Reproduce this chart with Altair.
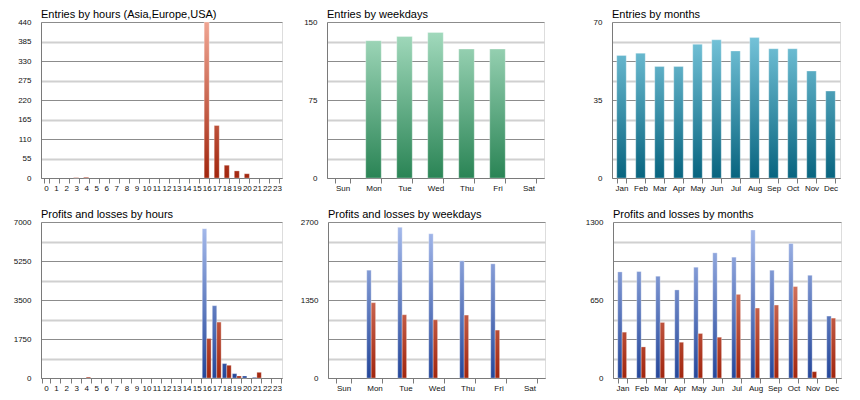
import altair as alt

# ---------------- data ----------------
hours = [str(h) for h in range(24)]
entries_hours = [0, 0, 0, 1, 2, 0, 0, 0, 0, 0, 0, 0, 0, 0, 0, 0,
                 440, 148, 36, 20, 12, 0, 0, 0]

weekdays = ["Sun", "Mon", "Tue", "Wed", "Thu", "Fri", "Sat"]
entries_week = [0, 132, 136, 140, 124, 124, 0]

months = ["Jan", "Feb", "Mar", "Apr", "May", "Jun",
          "Jul", "Aug", "Sep", "Oct", "Nov", "Dec"]
entries_months = [55, 56, 50, 50, 60, 62, 57, 63, 58, 58, 48, 39]

profit_hours = [0, 0, 0, 0, 0, 0, 0, 0, 0, 0, 0, 0, 0, 0, 0, 0,
                6700, 3245, 646, 195, 90, 30, 0, 0]
loss_hours = [0, 0, 0, 0, 40, 0, 0, 0, 0, 0, 0, 0, 0, 0, 0, 0,
              1772, 2509, 571, 90, 0, 255, 0, 0]

profit_week = [0, 1866, 2607, 2497, 2028, 1976, 0]
loss_week = [0, 1304, 1095, 1008, 1089, 829, 0]

profit_months = [884, 887, 848, 734, 923, 1043, 1007, 1233, 898, 1121, 856, 516]
loss_months = [382, 259, 463, 298, 371, 340, 697, 583, 608, 762, 53, 499]

# colour ramps (light at plot top, dark at plot bottom)
RED = ("#f0a592", "#a2260e")
GREEN = ("#aadfc3", "#2a8455")
TEAL = ("#80cde2", "#08647f")
BLUE = ("#a9bdee", "#25479a")

FONT = "Liberation Sans"
GRID_DARK = "#8c8c8c"
GRID_LIGHT = "#d0d0d0"
AXIS_COL = "#7a7a7a"


def _hex(c):
    c = c.lstrip("#")
    return [int(c[i:i + 2], 16) for i in (0, 2, 4)]


def mix(light, dark, t):
    a, b = _hex(dark), _hex(light)
    r = [round(a[i] + (b[i] - a[i]) * t) for i in range(3)]
    return "#%02x%02x%02x" % tuple(r)


def grad(v, vmax, ramp):
    t = max(0.0, min(1.0, v / vmax))
    top = mix(ramp[0], ramp[1], t)
    return {"gradient": "linear", "x1": 0, "y1": 0, "x2": 0, "y2": 1,
            "stops": [{"offset": 0, "color": top}, {"offset": 1, "color": ramp[1]}]}


def panel(title, cats, series, ymax, label_every, extent, width, pad_inner):
    # series: list of (name, values, ramp)
    recs = []
    for name, vals, ramp in series:
        for c, v in zip(cats, vals):
            recs.append({"cat": c, "val": v, "series": name, "grad": grad(v, ymax, ramp)})
    step = ymax / 8
    ticks = [step * i for i in range(9)]
    lab_mod = step * label_every
    enc = dict(
        x=alt.X("cat:N", sort=cats,
                scale=alt.Scale(domain=cats, paddingInner=pad_inner, paddingOuter=pad_inner / 2),
                axis=alt.Axis(title=None, labelAngle=0, tickBand="extent", tickSize=5,
                              tickColor=AXIS_COL, domainColor=AXIS_COL, labelFont=FONT,
                              labelFontSize=8, labelColor="#111", labelPadding=1, grid=False)),
        y=alt.Y("val:Q", scale=alt.Scale(domain=[0, ymax], nice=False, zero=True),
                axis=alt.Axis(title=None, values=ticks, ticks=False,
                              labelExpr=f"abs(datum.value % {lab_mod}) < 0.001 ? datum.label : ''",
                              format="d",
                              labelFont=FONT, labelFontSize=8, labelColor="#111",
                              labelPadding=10, domainColor=AXIS_COL,
                              minExtent=extent, maxExtent=extent,
                              gridColor={"condition": {"test": f"abs(datum.value % {2 * step}) < 0.001",
                                                       "value": GRID_DARK},
                                         "value": GRID_LIGHT},
                              gridWidth={"condition": {"test": f"abs(datum.value % {2 * step}) < 0.001",
                                                       "value": 1},
                                         "value": 2})),
        fill=alt.Fill("grad:N", scale=None, legend=None),
    )
    if len(series) > 1:
        enc["xOffset"] = alt.XOffset("series:N", sort=[s[0] for s in series],
                                     scale=alt.Scale(paddingInner=0, paddingOuter=0))
    return alt.Chart(alt.Data(values=recs)).transform_filter("datum.val > 0").mark_bar(
        stroke="white", strokeOpacity=0.3, strokeWidth=1
    ).encode(**enc).properties(
        width=width, height=156,
        title=alt.TitleParams(title, anchor="start", frame="group", font=FONT, fontSize=11,
                              fontWeight="normal", color="#000", offset=-2))


W1, W2, W3 = 241, 217, 228
E1, E2, E3 = 32, 27, 50

p1 = panel("Entries by hours (Asia,Europe,USA)", hours,
           [("entries", entries_hours, RED)], 440, 1, E1, W1, 0.5)
p2 = panel("Entries by weekdays", weekdays,
           [("entries", entries_week, GREEN)], 150, 4, E2, W2, 0.5)
p3 = panel("Entries by months", months,
           [("entries", entries_months, TEAL)], 70, 4, E3, W3, 0.5)
p4 = panel("Profits and losses by hours", hours,
           [("profit", profit_hours, BLUE), ("loss", loss_hours, RED)], 7000, 2, E1, W1, 0.12)
p5 = panel("Profits and losses by weekdays", weekdays,
           [("profit", profit_week, BLUE), ("loss", loss_week, RED)], 2700, 4, E2, W2, 0.5)
p6 = panel("Profits and losses by months", months,
           [("profit", profit_months, BLUE), ("loss", loss_months, RED)], 1300, 4, E3, W3, 0.5)

row1 = alt.hconcat(p1, p2, p3, spacing=16)
row2 = alt.hconcat(p4, p5, p6, spacing=16)
chart = alt.vconcat(row1, row2, spacing=15).properties(
    padding={"left": 0, "top": 0, "right": 0, "bottom": 0}
).configure_view(stroke=None).configure(background="white")

chart.save("out.html", embed_options={"renderer": "svg", "actions": False})
